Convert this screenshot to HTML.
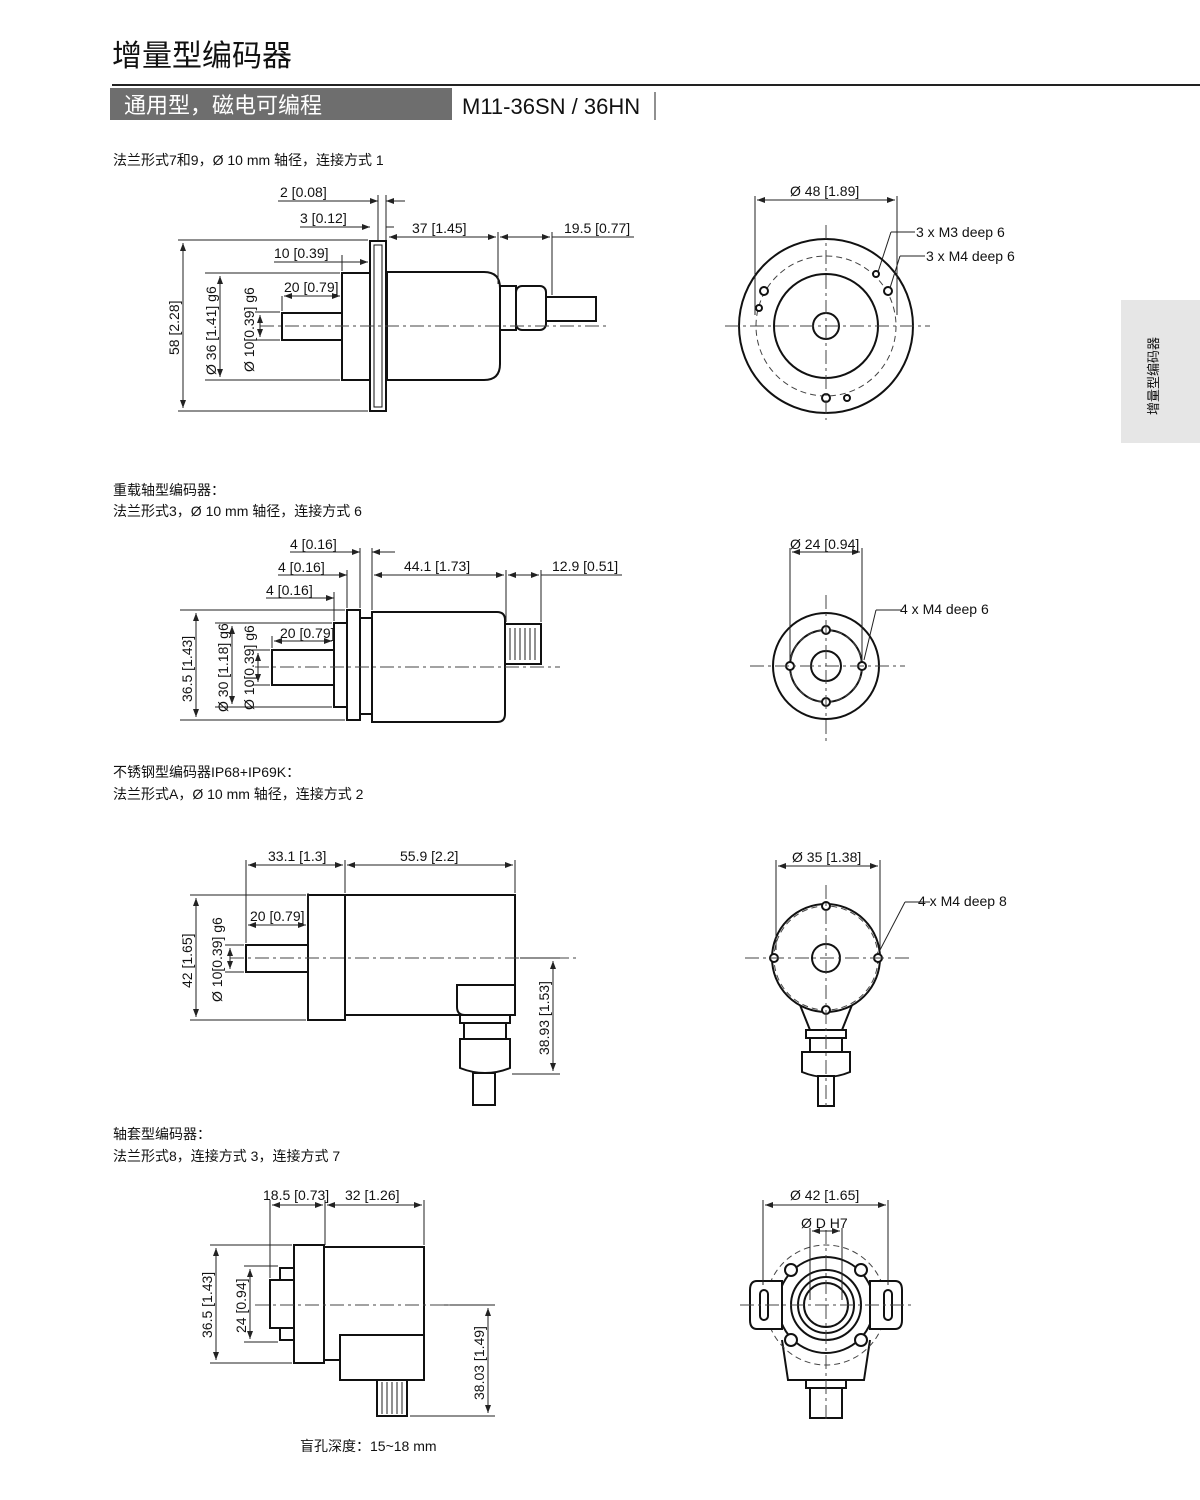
<!DOCTYPE html>
<html><head><meta charset="utf-8"><style>
body{margin:0;background:#fff;}
svg{display:block;}
text{font-family:"Liberation Sans","Noto Sans CJK SC",sans-serif;fill:#111;}
.d{stroke:#222;stroke-width:1;fill:none;}
.o{stroke:#111;stroke-width:2;fill:#fff;}
.c{stroke:#444;stroke-width:1;fill:none;stroke-dasharray:14 4 3 4;}
.h{stroke:#444;stroke-width:1;fill:none;stroke-dasharray:6 4;}
.t{font-size:14px;}
</style></head><body>
<svg width="1200" height="1500" viewBox="0 0 1200 1500" xmlns="http://www.w3.org/2000/svg">
<defs><marker id="a" markerWidth="8" markerHeight="6" refX="8" refY="3" orient="auto-start-reverse"><path d="M0,0L8,3L0,6z" fill="#222"/></marker></defs>
<!-- header -->
<text x="112" y="66" style="font-size:30px">增量型编码器</text>
<line x1="112" y1="85" x2="1200" y2="85" stroke="#222" stroke-width="2"/>
<rect x="110" y="88" width="342" height="32" fill="#6e6e6e"/>
<text x="124" y="113" style="font-size:22px;fill:#fff">通用型，磁电可编程</text>
<text x="462" y="114" style="font-size:22px">M11-36SN / 36HN</text>
<line x1="655" y1="92" x2="655" y2="120" stroke="#222"/>
<rect x="1121" y="300" width="79" height="143" fill="#e6e6e6"/>
<text transform="translate(1158,415) rotate(-90)" style="font-size:13px">增量型编码器</text>

<text x="113" y="165" class="t">法兰形式7和9，Ø 10 mm 轴径，连接方式 1</text>
<!-- Drawing 1 side -->
<rect x="370" y="241" width="16" height="170" class="o"/>
<rect x="374" y="245" width="8" height="162" fill="none" stroke="#111"/>
<rect x="342" y="273" width="28" height="107" class="o"/>
<rect x="282" y="313" width="60" height="27" class="o"/>
<path d="M387,272H484Q500,272 500,288V364Q500,380 484,380H387Z" class="o"/>
<rect x="500" y="286" width="16" height="44" class="o"/>
<rect x="516" y="286" width="30" height="44" class="o" rx="6"/>
<rect x="546" y="297" width="50" height="24" class="o"/>
<line x1="260" y1="326" x2="610" y2="326" class="c"/>
<g class="d">
<line x1="178" y1="240" x2="368" y2="240"/><line x1="178" y1="411" x2="368" y2="411"/>
<line x1="183" y1="243" x2="183" y2="408" marker-start="url(#a)" marker-end="url(#a)"/>
<line x1="205" y1="273" x2="340" y2="273"/><line x1="205" y1="380" x2="340" y2="380"/>
<line x1="220" y1="276" x2="220" y2="377" marker-start="url(#a)" marker-end="url(#a)"/>
<line x1="255" y1="312" x2="280" y2="312"/><line x1="255" y1="340" x2="280" y2="340"/>
<line x1="260" y1="315" x2="260" y2="337" marker-start="url(#a)" marker-end="url(#a)"/>
<line x1="282" y1="296" x2="282" y2="311"/><line x1="342" y1="255" x2="342" y2="271"/>
<line x1="284" y1="296" x2="340" y2="296" marker-start="url(#a)" marker-end="url(#a)"/>
<line x1="274" y1="262" x2="368" y2="262" marker-end="url(#a)"/>
<line x1="278" y1="201" x2="378" y2="201" marker-end="url(#a)"/><line x1="405" y1="201" x2="386" y2="201" marker-end="url(#a)"/>
<line x1="300" y1="227" x2="370" y2="227" marker-end="url(#a)"/><line x1="394" y1="227" x2="386" y2="227"/>
<line x1="378" y1="195" x2="378" y2="240"/><line x1="386" y1="195" x2="386" y2="240"/>
<line x1="389" y1="237" x2="496" y2="237" marker-start="url(#a)" marker-end="url(#a)"/>
<line x1="498" y1="232" x2="498" y2="284"/><line x1="552" y1="232" x2="552" y2="295"/>
<line x1="500" y1="237" x2="550" y2="237" marker-start="url(#a)" marker-end="url(#a)"/>
<line x1="552" y1="237" x2="634" y2="237"/>
</g>
<text x="280" y="197" class="t">2 [0.08]</text>
<text x="300" y="223" class="t">3 [0.12]</text>
<text x="412" y="233" class="t">37 [1.45]</text>
<text x="564" y="233" class="t">19.5 [0.77]</text>
<text x="274" y="258" class="t">10 [0.39]</text>
<text x="284" y="292" class="t">20 [0.79]</text>
<text transform="translate(179,355) rotate(-90)" class="t">58 [2.28]</text>
<text transform="translate(216,375) rotate(-90)" class="t">Ø 36 [1.41] g6</text>
<text transform="translate(254,372) rotate(-90)" class="t">Ø 10[0.39] g6</text>
<!-- Front 1 -->
<g>
<circle cx="826" cy="326" r="87" class="o"/>
<circle cx="826" cy="326" r="52" class="o" stroke-width="1.5"/>
<circle cx="826" cy="326" r="13" class="o"/>
<circle cx="826" cy="326" r="70" class="h"/>
<circle cx="764" cy="291" r="4" class="o" stroke-width="1.3"/><circle cx="888" cy="291" r="4" class="o" stroke-width="1.3"/><circle cx="826" cy="398" r="4" class="o" stroke-width="1.3"/>
<circle cx="876" cy="274" r="3" class="o" stroke-width="1.2"/><circle cx="759" cy="308" r="3" class="o" stroke-width="1.2"/><circle cx="847" cy="398" r="3" class="o" stroke-width="1.2"/>
<line x1="725" y1="326" x2="930" y2="326" class="c"/><line x1="826" y1="225" x2="826" y2="420" class="c"/>
<g class="d"><line x1="755" y1="196" x2="755" y2="315"/><line x1="897" y1="196" x2="897" y2="315"/>
<line x1="757" y1="200" x2="895" y2="200" marker-start="url(#a)" marker-end="url(#a)"/>
<line x1="878" y1="272" x2="891" y2="232"/><line x1="891" y1="232" x2="915" y2="232"/>
<line x1="890" y1="288" x2="900" y2="256"/><line x1="900" y1="256" x2="925" y2="256"/></g>
<text x="790" y="196" class="t">Ø 48 [1.89]</text>
<text x="916" y="237" class="t">3 x M3 deep 6</text>
<text x="926" y="261" class="t">3 x M4 deep 6</text>
</g>

<text x="113" y="495" class="t">重载轴型编码器：</text>
<text x="113" y="516" class="t">法兰形式3，Ø 10 mm 轴径，连接方式  6</text>
<!-- Drawing 2 -->
<rect x="347" y="610" width="13" height="110" class="o"/>
<rect x="334" y="623" width="13" height="84" class="o"/>
<rect x="360" y="618" width="12" height="96" class="o"/>
<rect x="272" y="650" width="62" height="35" class="o"/>
<path d="M372,612H497Q505,612 505,620V714Q505,722 497,722H372Z" class="o"/>
<rect x="505" y="624" width="36" height="40" class="o"/>
<g stroke="#222" stroke-width="1"><line x1="510" y1="628" x2="510" y2="660"/><line x1="515" y1="628" x2="515" y2="660"/><line x1="520" y1="628" x2="520" y2="660"/><line x1="525" y1="628" x2="525" y2="660"/><line x1="530" y1="628" x2="530" y2="660"/><line x1="535" y1="628" x2="535" y2="660"/></g>
<line x1="255" y1="667" x2="560" y2="667" class="c"/>
<g class="d">
<line x1="180" y1="610" x2="345" y2="610"/><line x1="180" y1="720" x2="345" y2="720"/>
<line x1="196" y1="613" x2="196" y2="717" marker-start="url(#a)" marker-end="url(#a)"/>
<line x1="215" y1="623" x2="332" y2="623"/><line x1="215" y1="707" x2="332" y2="707"/>
<line x1="232" y1="626" x2="232" y2="704" marker-start="url(#a)" marker-end="url(#a)"/>
<line x1="252" y1="650" x2="270" y2="650"/><line x1="252" y1="685" x2="270" y2="685"/>
<line x1="258" y1="653" x2="258" y2="682" marker-start="url(#a)" marker-end="url(#a)"/>
<line x1="272" y1="636" x2="272" y2="648"/><line x1="274" y1="641" x2="332" y2="641" marker-start="url(#a)" marker-end="url(#a)"/>
<line x1="334" y1="592" x2="334" y2="621"/><line x1="347" y1="570" x2="347" y2="608"/><line x1="360" y1="548" x2="360" y2="608"/><line x1="372" y1="548" x2="372" y2="610"/>
<line x1="266" y1="598" x2="334" y2="598" marker-end="url(#a)"/><line x1="278" y1="575" x2="347" y2="575" marker-end="url(#a)"/>
<line x1="290" y1="552" x2="360" y2="552" marker-end="url(#a)"/><line x1="395" y1="552" x2="372" y2="552" marker-end="url(#a)"/>
<line x1="374" y1="575" x2="504" y2="575" marker-start="url(#a)" marker-end="url(#a)"/>
<line x1="506" y1="570" x2="506" y2="622"/><line x1="541" y1="570" x2="541" y2="622"/>
<line x1="508" y1="575" x2="539" y2="575" marker-start="url(#a)" marker-end="url(#a)"/><line x1="541" y1="575" x2="622" y2="575"/>
</g>
<text x="290" y="549" class="t">4 [0.16]</text>
<text x="278" y="572" class="t">4 [0.16]</text>
<text x="266" y="595" class="t">4 [0.16]</text>
<text x="404" y="571" class="t">44.1 [1.73]</text>
<text x="552" y="571" class="t">12.9 [0.51]</text>
<text x="280" y="638" class="t">20 [0.79]</text>
<text transform="translate(192,702) rotate(-90)" class="t">36.5 [1.43]</text>
<text transform="translate(228,712) rotate(-90)" class="t">Ø 30 [1.18] g6</text>
<text transform="translate(254,710) rotate(-90)" class="t">Ø 10[0.39] g6</text>
<!-- Front 2 -->
<circle cx="826" cy="666" r="53" class="o"/>
<circle cx="826" cy="666" r="36" class="o" stroke-width="1.5"/>
<circle cx="826" cy="666" r="15" class="o"/>
<circle cx="826" cy="666" r="36" class="h"/>
<circle cx="790" cy="666" r="4" class="o" stroke-width="1.3"/><circle cx="862" cy="666" r="4" class="o" stroke-width="1.3"/><circle cx="826" cy="630" r="4" class="o" stroke-width="1.3"/><circle cx="826" cy="702" r="4" class="o" stroke-width="1.3"/>
<line x1="750" y1="666" x2="905" y2="666" class="c"/><line x1="826" y1="595" x2="826" y2="742" class="c"/>
<g class="d"><line x1="790" y1="548" x2="790" y2="660"/><line x1="862" y1="548" x2="862" y2="660"/>
<line x1="792" y1="552" x2="860" y2="552" marker-start="url(#a)" marker-end="url(#a)"/>
<line x1="864" y1="660" x2="876" y2="610"/><line x1="876" y1="610" x2="902" y2="610"/></g>
<text x="790" y="549" class="t">Ø 24 [0.94]</text>
<text x="900" y="614" class="t">4 x M4 deep 6</text>

<text x="113" y="777" class="t">不锈钢型编码器IP68+IP69K：</text>
<text x="113" y="799" class="t">法兰形式A，Ø 10 mm 轴径，连接方式  2</text>
<!-- Drawing 3 -->
<rect x="246" y="945" width="62" height="27" class="o"/>
<rect x="308" y="895" width="37" height="125" class="o"/>
<rect x="345" y="895" width="170" height="120" class="o"/>
<path d="M457,985H515V1015H465Q457,1015 457,1007Z" class="o"/>
<rect x="460" y="1015" width="50" height="8" class="o"/>
<rect x="464" y="1023" width="42" height="16" class="o"/>
<path d="M460,1039H510V1068Q485,1078 460,1068Z" class="o"/>
<rect x="473" y="1073" width="22" height="32" class="o"/>
<line x1="230" y1="958" x2="580" y2="958" class="c"/>
<g class="d">
<line x1="190" y1="895" x2="306" y2="895"/><line x1="190" y1="1020" x2="306" y2="1020"/>
<line x1="196" y1="898" x2="196" y2="1017" marker-start="url(#a)" marker-end="url(#a)"/>
<line x1="225" y1="945" x2="244" y2="945"/><line x1="225" y1="972" x2="244" y2="972"/>
<line x1="230" y1="948" x2="230" y2="969" marker-start="url(#a)" marker-end="url(#a)"/>
<line x1="246" y1="860" x2="246" y2="943"/><line x1="308" y1="920" x2="308" y2="893"/>
<line x1="248" y1="925" x2="306" y2="925" marker-start="url(#a)" marker-end="url(#a)"/>
<line x1="345" y1="860" x2="345" y2="893"/><line x1="515" y1="860" x2="515" y2="893"/>
<line x1="248" y1="865" x2="343" y2="865" marker-start="url(#a)" marker-end="url(#a)"/>
<line x1="347" y1="865" x2="513" y2="865" marker-start="url(#a)" marker-end="url(#a)"/>
<line x1="520" y1="958" x2="560" y2="958"/><line x1="512" y1="1074" x2="560" y2="1074"/>
<line x1="553" y1="961" x2="553" y2="1071" marker-start="url(#a)" marker-end="url(#a)"/>
</g>
<text x="268" y="861" class="t">33.1 [1.3]</text>
<text x="400" y="861" class="t">55.9 [2.2]</text>
<text x="250" y="921" class="t">20 [0.79]</text>
<text transform="translate(192,988) rotate(-90)" class="t">42 [1.65]</text>
<text transform="translate(222,1002) rotate(-90)" class="t">Ø 10[0.39] g6</text>
<text transform="translate(549,1055) rotate(-90)" class="t">38.93 [1.53]</text>
<!-- Front 3 -->
<path d="M800,1005L810,1030H842L852,1005" class="o"/>
<circle cx="826" cy="958" r="54" class="o"/>
<circle cx="826" cy="958" r="14" class="o" stroke-width="3"/>
<circle cx="826" cy="958" r="52" class="h"/>
<circle cx="774" cy="958" r="4" class="o" stroke-width="1.3"/><circle cx="878" cy="958" r="4" class="o" stroke-width="1.3"/><circle cx="826" cy="906" r="4" class="o" stroke-width="1.3"/><circle cx="826" cy="1010" r="4" class="o" stroke-width="1.3"/>
<rect x="806" y="1030" width="40" height="8" class="o"/>
<rect x="810" y="1038" width="32" height="14" class="o"/>
<path d="M802,1052H850V1072Q826,1082 802,1072Z" class="o"/>
<rect x="818" y="1076" width="16" height="30" class="o"/>
<line x1="745" y1="958" x2="910" y2="958" class="c"/><line x1="826" y1="885" x2="826" y2="1110" class="c"/>
<g class="d"><line x1="776" y1="860" x2="776" y2="950"/><line x1="880" y1="860" x2="880" y2="950"/>
<line x1="778" y1="866" x2="878" y2="866" marker-start="url(#a)" marker-end="url(#a)"/>
<line x1="880" y1="950" x2="905" y2="902"/><line x1="905" y1="902" x2="930" y2="902"/></g>
<text x="792" y="862" class="t">Ø 35 [1.38]</text>
<text x="918" y="906" class="t">4 x M4 deep 8</text>

<text x="113" y="1139" class="t">轴套型编码器：</text>
<text x="113" y="1161" class="t">法兰形式8，连接方式 3，连接方式 7</text>
<!-- Drawing 4 -->
<rect x="294" y="1245" width="30" height="118" class="o"/>
<rect x="324" y="1247" width="100" height="113" class="o"/>
<path d="M340,1335H424V1380H340Z" class="o"/>
<rect x="280" y="1268" width="14" height="20" class="o"/><rect x="280" y="1320" width="14" height="20" class="o"/>
<rect x="270" y="1280" width="24" height="48" class="o"/>
<rect x="377" y="1380" width="30" height="36" class="o"/>
<g stroke="#222"><line x1="382" y1="1382" x2="382" y2="1414"/><line x1="387" y1="1382" x2="387" y2="1414"/><line x1="392" y1="1382" x2="392" y2="1414"/><line x1="397" y1="1382" x2="397" y2="1414"/><line x1="402" y1="1382" x2="402" y2="1414"/></g>
<g class="d">
<line x1="210" y1="1245" x2="292" y2="1245"/><line x1="210" y1="1363" x2="292" y2="1363"/>
<line x1="216" y1="1248" x2="216" y2="1360" marker-start="url(#a)" marker-end="url(#a)"/>
<line x1="244" y1="1266" x2="278" y2="1266"/><line x1="244" y1="1342" x2="278" y2="1342"/>
<line x1="250" y1="1269" x2="250" y2="1339" marker-start="url(#a)" marker-end="url(#a)"/>
<line x1="270" y1="1200" x2="270" y2="1278"/><line x1="325" y1="1200" x2="325" y2="1245"/><line x1="424" y1="1200" x2="424" y2="1245"/>
<line x1="272" y1="1205" x2="323" y2="1205" marker-start="url(#a)" marker-end="url(#a)"/>
<line x1="327" y1="1205" x2="422" y2="1205" marker-start="url(#a)" marker-end="url(#a)"/>
<line x1="430" y1="1305" x2="495" y2="1305"/><line x1="410" y1="1416" x2="495" y2="1416"/>
<line x1="488" y1="1308" x2="488" y2="1413" marker-start="url(#a)" marker-end="url(#a)"/>
</g>
<line x1="255" y1="1305" x2="450" y2="1305" class="c"/>
<text x="263" y="1200" class="t">18.5 [0.73]</text>
<text x="345" y="1200" class="t">32 [1.26]</text>
<text transform="translate(212,1338) rotate(-90)" class="t">36.5 [1.43]</text>
<text transform="translate(246,1333) rotate(-90)" class="t">24 [0.94]</text>
<text transform="translate(484,1400) rotate(-90)" class="t">38.03 [1.49]</text>
<text x="300" y="1451" class="t">盲孔深度：15~18 mm</text>
<!-- Front 4 -->
<path d="M782,1340L788,1380H864L870,1340" class="o"/>
<circle cx="826" cy="1305" r="60" class="h"/>
<circle cx="826" cy="1305" r="48" class="o"/>
<circle cx="826" cy="1305" r="35" class="o"/>
<circle cx="826" cy="1305" r="28" class="o"/>
<circle cx="826" cy="1305" r="22" class="o" stroke-width="3"/>
<path d="M757,1281H782V1329H757Q750,1329 750,1320V1290Q750,1281 757,1281Z" class="o"/>
<path d="M870,1281H895Q902,1281 902,1290V1320Q902,1329 895,1329H870Z" class="o"/>
<rect x="760" y="1290" width="8" height="30" rx="4" class="o"/><rect x="884" y="1290" width="8" height="30" rx="4" class="o"/>
<circle cx="791" cy="1270" r="6" class="o"/><circle cx="861" cy="1270" r="6" class="o"/><circle cx="791" cy="1340" r="6" class="o"/><circle cx="861" cy="1340" r="6" class="o"/>
<rect x="806" y="1380" width="40" height="8" class="o"/>
<rect x="810" y="1388" width="32" height="30" class="o"/>
<line x1="740" y1="1305" x2="915" y2="1305" class="c"/><line x1="826" y1="1230" x2="826" y2="1420" class="c"/>
<g class="d"><line x1="763" y1="1200" x2="763" y2="1285"/><line x1="888" y1="1200" x2="888" y2="1285"/>
<line x1="765" y1="1205" x2="886" y2="1205" marker-start="url(#a)" marker-end="url(#a)"/>
<line x1="810" y1="1228" x2="810" y2="1300"/><line x1="842" y1="1228" x2="842" y2="1300"/>
<line x1="812" y1="1231" x2="840" y2="1231" marker-start="url(#a)" marker-end="url(#a)"/></g>
<text x="790" y="1200" class="t">Ø 42 [1.65]</text>
<text x="801" y="1228" class="t">Ø D H7</text>
</svg>
</body></html>
